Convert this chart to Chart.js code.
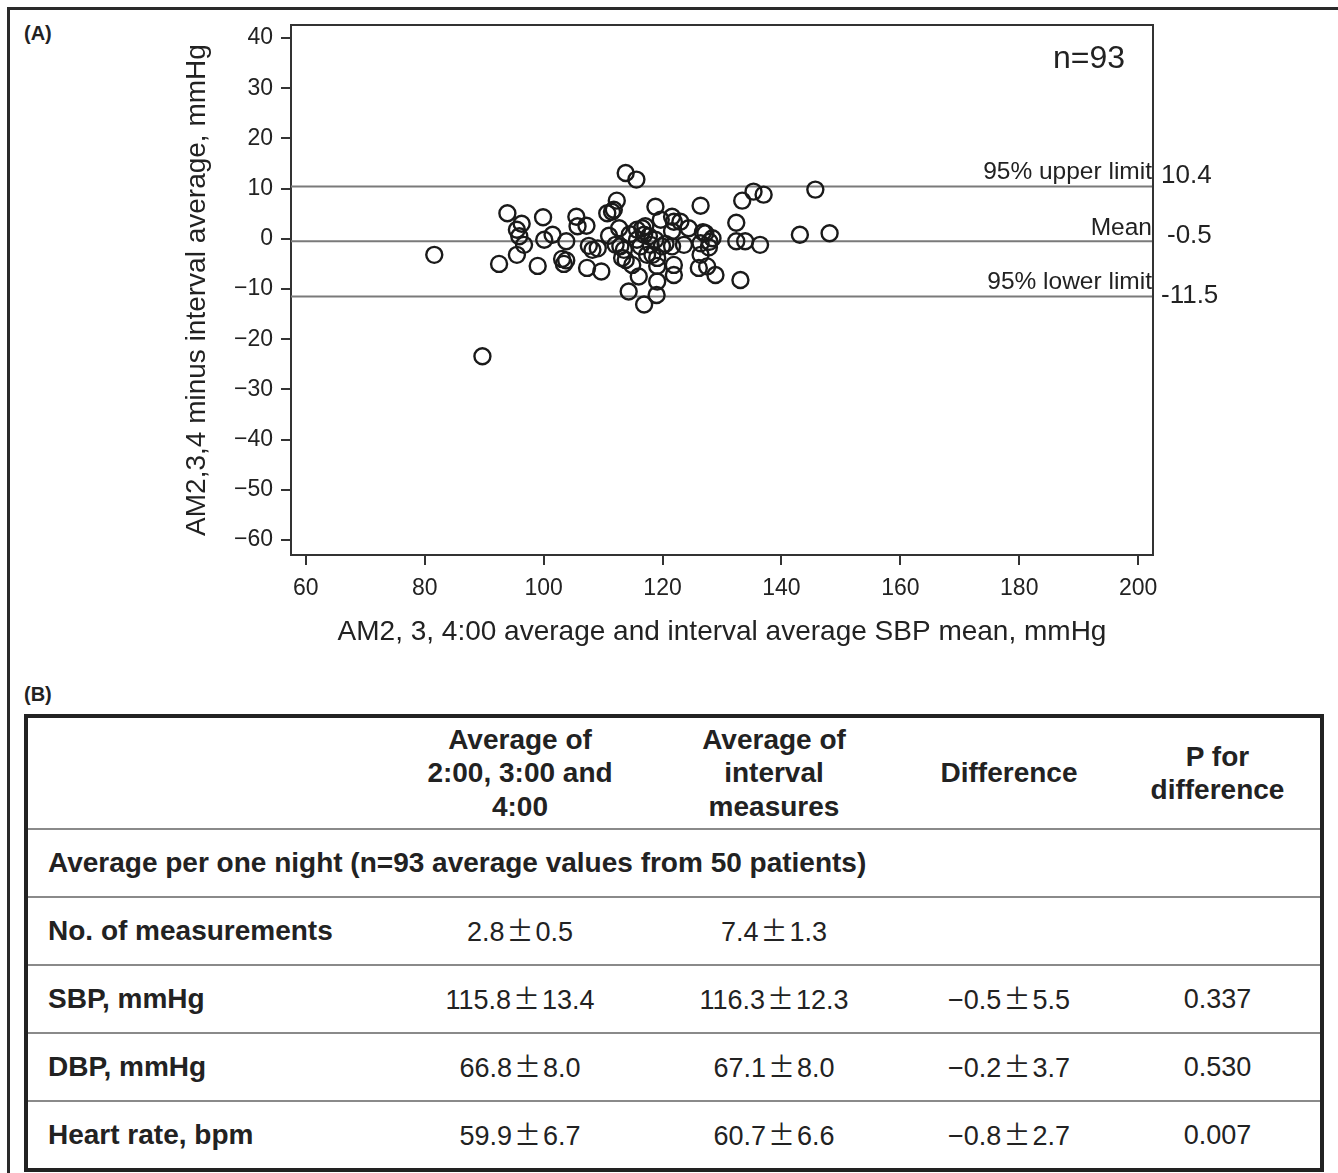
<!DOCTYPE html>
<html>
<head>
<meta charset="utf-8">
<script src="https://cdn.jsdelivr.net/npm/chart.js@4.4.0/dist/chart.umd.min.js"></script>
<style>
  html, body { margin:0; padding:0; background:#fff; width:1338px; height:1173px; overflow:hidden; position:relative; font-family:"Liberation Sans", Arial, sans-serif; color:#222; }
  #frame { position:absolute; left:7px; top:7px; width:1400px; height:1300px; border:3px solid #2a2a2a; box-sizing:border-box; }
  #chartWrap { position:absolute; left:0; top:0; width:1338px; height:660px; }
  .panel { position:absolute; font-weight:bold; font-size:20px; color:#222; }
  #tbl { position:absolute; left:24px; top:714px; width:1300px; border-collapse:collapse; border:4px solid #222; box-sizing:border-box; table-layout:fixed; }
  #tbl td, #tbl th { border-top:2px solid #8a8a8a; padding:0; font-size:27px; color:#222; }
  #tbl th { font-weight:bold; font-size:28px; height:110px; line-height:33.5px; text-align:center; vertical-align:middle; border-top:none; }
  #tbl td { height:66px; line-height:30px; text-align:center; vertical-align:middle; }
  #tbl td.lab { text-align:left; font-weight:bold; font-size:28px; padding-left:20px; }
  .pm { font-family:"Noto Sans CJK JP", sans-serif; font-weight:normal; margin:0 2px; line-height:1; vertical-align:baseline; }
</style>
</head>
<body>
<div id="frame"></div>
<div class="panel" style="left:24px; top:22px;">(A)</div>
<div class="panel" style="left:24px; top:683px;">(B)</div>
<div id="chartWrap"><canvas id="c" width="1338" height="660"></canvas></div>
<table id="tbl"></table>
<script>
// ---- Data ----
const meanSBP = [81.6,89.7,93.9,92.5,96.3,95.5,95.9,96.7,95.5,99.9,99.0,100.1,101.5,103.8,103.1,103.4,103.8,105.5,105.7,107.2,107.3,109.7,107.6,108.2,109.1,
  110.7,111.5,112.3,112.7,111.0,113.8,115.6,114.3,112.1,113.5,113.2,114.9,115.7,116.6,116.9,115.7,116.0,116.9,119.0,119.1,119.1,118.0,117.4,118.3,118.8,119.7,118.8,111.8,117.1,117.7,112.9,113.8,116.3,119.1,
  121.6,121.9,123.0,121.6,119.9,121.6,121.9,121.9,124.4,123.6,126.4,127.2,128.4,127.8,126.4,126.1,127.5,128.9,126.4,133.4,132.4,132.4,133.9,133.1,135.3,137.0,145.7,143.1,148.1,136.4,126.8,127.9,114.5,120.5];
const diffSBP = [-3.2,-23.4,5.1,-5.0,3.0,1.8,0.5,-1.2,-3.2,4.3,-5.4,-0.2,0.8,-0.5,-4.0,-5.0,-4.3,4.4,2.5,2.6,-5.8,-6.5,-1.4,-2.2,-1.9,
  5.1,5.4,7.6,2.1,0.6,13.1,11.8,-10.5,-1.2,-2.2,-3.8,-5.2,1.8,2.1,0.8,-0.2,-7.5,-13.1,-11.2,-8.5,-5.4,-1.2,-3.2,-3.2,-0.2,3.8,6.4,5.8,2.5,0.5,-1.5,-4.2,-1.5,-3.8,
  4.4,3.4,3.4,1.5,-1.5,-1.5,-5.2,-7.2,2.1,-1.2,-0.9,1.1,0.1,-1.7,-3.2,-5.8,-5.5,-7.2,6.6,7.6,3.2,-0.5,-0.5,-8.2,9.4,8.8,9.8,0.8,1.1,-1.2,1.3,-0.6,0.9,-1.0];
const refValues = [10.4, -0.5, -11.5];
const refNames = ["95% upper limit", "Mean", "95% lower limit"];
const refValueLabels = ["10.4", "-0.5", "-11.5"];
const xTicks = [60, 80, 100, 120, 140, 160, 180, 200];
const yTicks = [-60, -50, -40, -30, -20, -10, 0, 10, 20, 30, 40];
const xRange = [57.5, 202.5];
const yRange = [-63, 42.6];
const xTitle = "AM2, 3, 4:00 average and interval average SBP mean, mmHg";
const yTitle = "AM2,3,4 minus interval average, mmHg";
const nLabel = "n=93";

// Table data
const tableHeader = ["", "Average of<br>2:00, 3:00 and<br>4:00", "Average of<br>interval<br>measures", "Difference", "P for<br>difference"];
const sectionLabel = "Average per one night (n=93 average values from 50 patients)";
const rowLabels = ["No. of measurements", "SBP, mmHg", "DBP, mmHg", "Heart rate, bpm"];
const col2300 = ["2.8±0.5", "115.8±13.4", "66.8±8.0", "59.9±6.7"];
const colInterval = ["7.4±1.3", "116.3±12.3", "67.1±8.0", "60.7±6.6"];
const colDiff = ["", "−0.5±5.5", "−0.2±3.7", "−0.8±2.7"];
const colP = ["", "0.337", "0.530", "0.007"];

// ---- Build table ----
(function(){
  const t = document.getElementById('tbl');
  const widths = [367, 250, 258, 212, 205];
  let h = '<tr>' + tableHeader.map((s,i)=>'<th style="width:'+widths[i]+'px">'+s+'</th>').join('') + '</tr>';
  h += '<tr><td class="lab" colspan="5">'+sectionLabel+'</td></tr>';
  const pm = s => s.replace('±','<span class="pm">±</span>');
  rowLabels.forEach((r,i)=>{
    h += '<tr><td class="lab">'+r+'</td><td>'+pm(col2300[i])+'</td><td>'+pm(colInterval[i])+'</td><td>'+pm(colDiff[i])+'</td><td>'+colP[i]+'</td></tr>';
  });
  t.innerHTML = h;
})();

// ---- Chart ----
const points = meanSBP.map((x,i)=>({x:x, y:diffSBP[i]}));
const refDatasets = refValues.map(v=>({
  type:'line', data:[{x:xRange[0], y:v},{x:xRange[1], y:v}],
  borderColor:'#7a7a7a', borderWidth:2, pointRadius:0, order:2, fill:false
}));

const fmt = v => v < 0 ? '\u2212' + Math.abs(v) : String(v);

const annot = {
  id:'annot',
  afterDraw(chart){
    const {ctx, chartArea:a, scales:{x, y}} = chart;
    ctx.save();
    ctx.strokeStyle = '#333'; ctx.lineWidth = 2;
    ctx.beginPath();
    ctx.moveTo(a.left, a.top); ctx.lineTo(a.right, a.top); ctx.lineTo(a.right, a.bottom);
    ctx.stroke();
    ctx.fillStyle = '#222';
    const nameOff = [-14, -13, -14];
    const valOff = [-11, -5, -1];
    refValues.forEach((v,i)=>{
      const py = y.getPixelForValue(v);
      ctx.textAlign = 'right'; ctx.textBaseline = 'middle';
      ctx.font = '24.5px "Liberation Sans", Arial, sans-serif';
      ctx.fillText(refNames[i], a.right - 1, py + nameOff[i]);
      ctx.textAlign = 'left';
      ctx.font = '26px "Liberation Sans", Arial, sans-serif';
      ctx.fillText(refValueLabels[i], a.right + (i===1?14:8), py + valOff[i]);
    });
    ctx.font = '32px "Liberation Sans", Arial, sans-serif';
    ctx.textAlign = 'right'; ctx.textBaseline = 'middle';
    ctx.fillText(nLabel, x.getPixelForValue(xRange[1]) - 28, y.getPixelForValue(yRange[1]) + 34);
    ctx.restore();
  }
};

new Chart(document.getElementById('c'), {
  type:'scatter',
  data:{ datasets:[
    { data:points, pointStyle:'circle', pointRadius:8, pointBorderWidth:2.4, borderColor:'#1a1a1a', backgroundColor:'rgba(0,0,0,0)', order:1 },
    ...refDatasets
  ]},
  options:{
    responsive:false, animation:false, devicePixelRatio:1,
    layout:{ padding:{ left:175, right:185, top:25, bottom:0 } },
    plugins:{ legend:{display:false}, tooltip:{enabled:false} },
    scales:{
      x:{
        type:'linear', min:xRange[0], max:xRange[1],
        afterFit(s){ s.height = 105; },
        afterBuildTicks(s){ s.ticks = xTicks.map(v=>({value:v})); },
        ticks:{ callback:fmt, color:'#222', font:{family:'"Liberation Sans", Arial, sans-serif', size:23}, padding:10, maxRotation:0, autoSkip:false },
        grid:{ display:true, drawOnChartArea:false, drawTicks:true, tickLength:10, color:'#333', lineWidth:2 },
        border:{ display:true, color:'#333', width:2 },
        title:{ display:true, text:xTitle, color:'#222', font:{family:'"Liberation Sans", Arial, sans-serif', size:28}, padding:{top:0,bottom:11} }
      },
      y:{
        type:'linear', min:yRange[0], max:yRange[1],
        afterFit(s){ s.width = 116; },
        afterBuildTicks(s){ s.ticks = yTicks.map(v=>({value:v})); },
        ticks:{ callback:fmt, color:'#222', font:{family:'"Liberation Sans", Arial, sans-serif', size:23}, padding:8, autoSkip:false },
        grid:{ display:true, drawOnChartArea:false, drawTicks:true, tickLength:10, color:'#333', lineWidth:2 },
        border:{ display:true, color:'#333', width:2 },
        title:{ display:true, text:yTitle, color:'#222', font:{family:'"Liberation Sans", Arial, sans-serif', size:28}, padding:{top:5,bottom:0} }
      }
    }
  },
  plugins:[annot]
});
</script>
</body>
</html>
